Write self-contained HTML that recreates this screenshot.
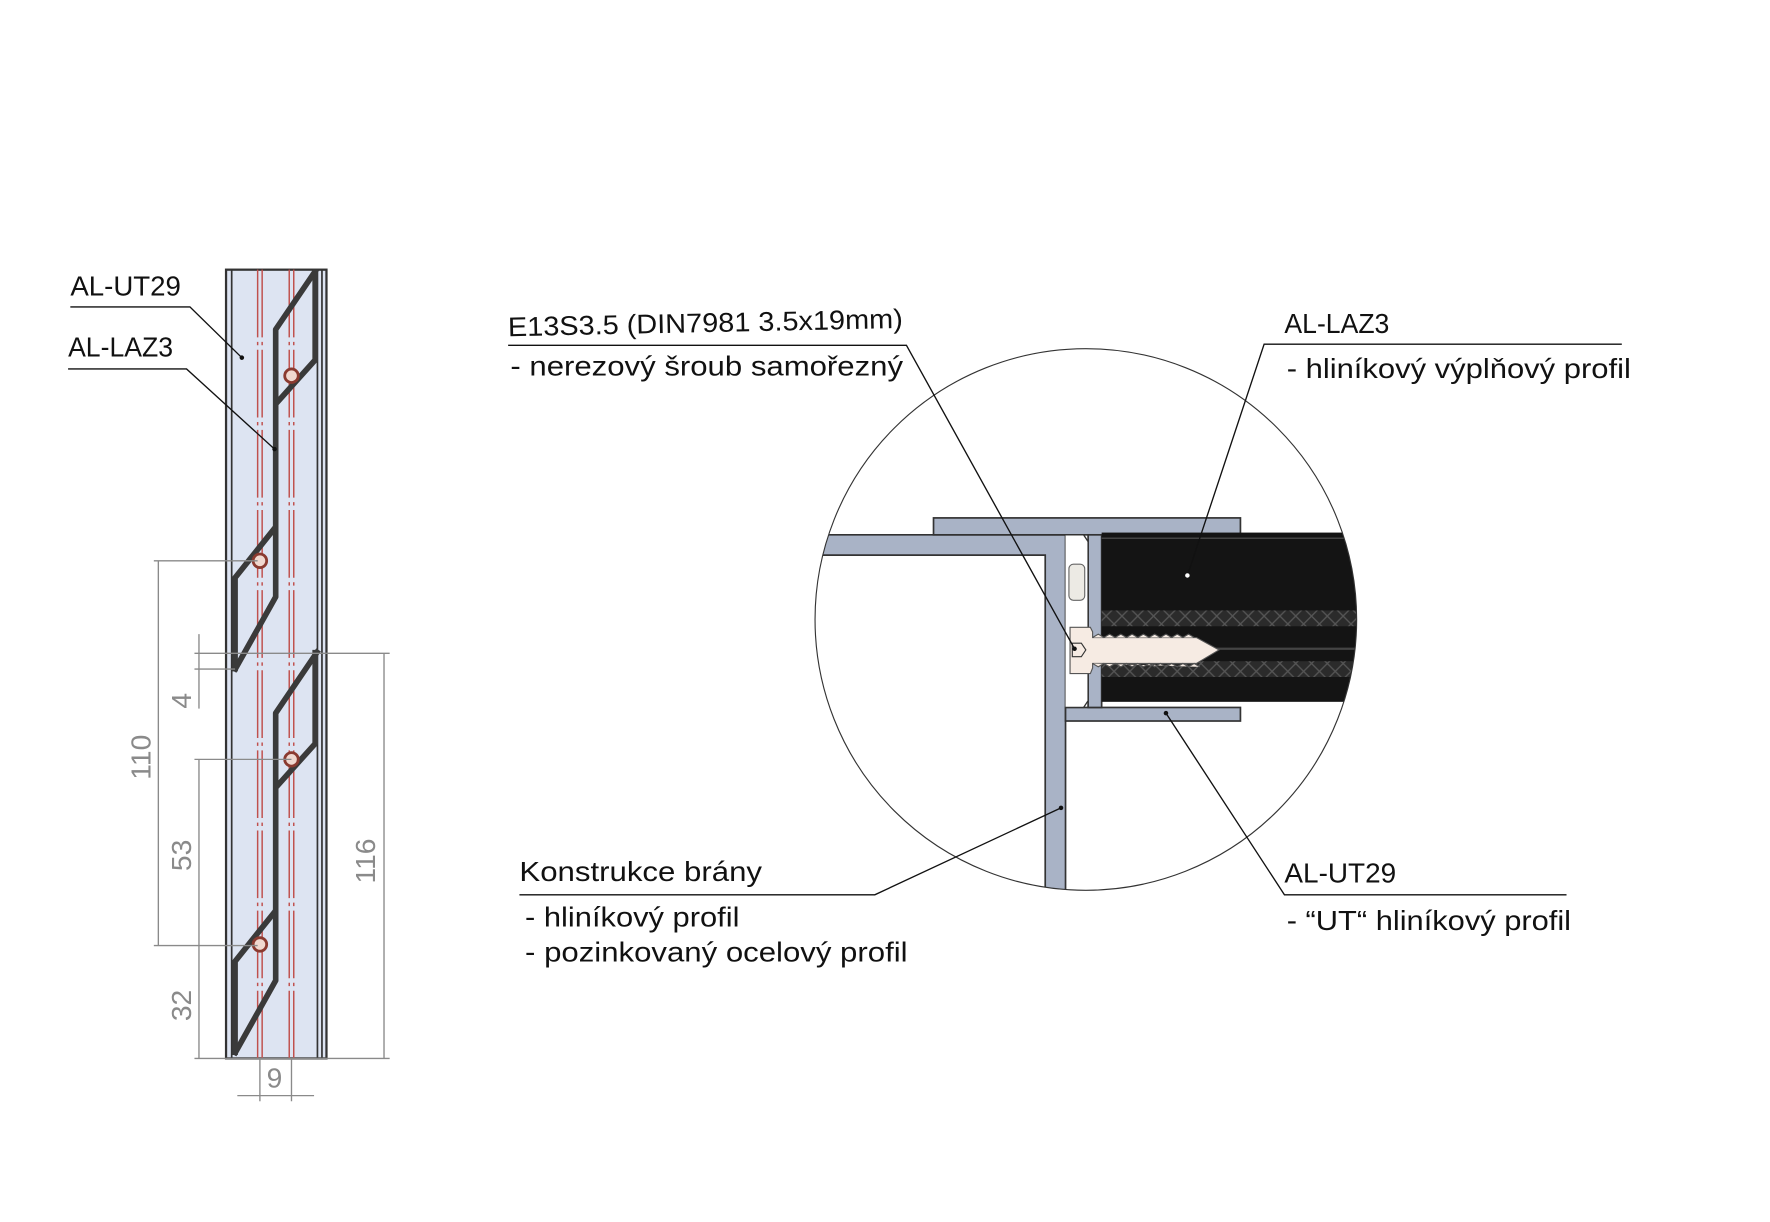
<!DOCTYPE html>
<html><head><meta charset="utf-8"><style>
html,body{margin:0;padding:0;background:#fff}
svg{display:block}
text{font-family:"Liberation Sans",sans-serif;fill:#111}
</style></head><body>
<svg width="1770" height="1222" viewBox="0 0 1568 1083" xmlns="http://www.w3.org/2000/svg">
<defs>
<clipPath id="prof"><rect x="200" y="239" width="89" height="699"/></clipPath>
<clipPath id="circ"><circle cx="962" cy="549" r="240"/></clipPath>
<pattern id="hatch" width="14" height="14" patternUnits="userSpaceOnUse">
<rect width="14" height="14" fill="#2b2b2b"/>
<path d="M0,14 L14,0 M0,0 L14,14" stroke="#555" stroke-width="1.2"/>
</pattern>
<g id="mod" fill="none" stroke="#3a3a3a" stroke-width="5" stroke-linejoin="round">
<polyline points="282,236 244,292 244,529 207,595"/>
<polyline points="279,236 279,319 244,358"/>
<polyline points="244,467 208,512 208,595"/>
<circle cx="258" cy="333" r="6" stroke="#8a3a30" stroke-width="2.5" fill="#f0d8d0"/>
<circle cx="230" cy="497" r="6" stroke="#8a3a30" stroke-width="2.5" fill="#f0d8d0"/>
</g>
</defs>

<rect x="200" y="239" width="89" height="699" fill="#dde4f2" stroke="#333" stroke-width="2"/>
<g stroke="#333" stroke-width="1.5">
<line x1="205" y1="239" x2="205" y2="938"/>
<line x1="281" y1="239" x2="281" y2="938"/>
<line x1="285" y1="239" x2="285" y2="938"/>
</g>
<g stroke="#c0504d" stroke-width="1.3" stroke-dasharray="60,4,3,4">
<line x1="228" y1="239" x2="228" y2="938"/>
<line x1="232" y1="239" x2="232" y2="938"/>
<line x1="256" y1="239" x2="256" y2="938"/>
<line x1="260" y1="239" x2="260" y2="938"/>
</g>
<g clip-path="url(#prof)">
<use href="#mod"/>
<use href="#mod" transform="translate(0,340)"/>
</g>

<g stroke="#8a8a8a" stroke-width="1.2" fill="none">
<line x1="136" y1="497" x2="228" y2="497"/>
<line x1="136" y1="838" x2="228" y2="838"/>
<line x1="140" y1="497" x2="140" y2="838"/>
<line x1="172" y1="579" x2="345" y2="579"/>
<line x1="172" y1="593" x2="208" y2="593"/>
<line x1="176" y1="562" x2="176" y2="628"/>
<line x1="172" y1="673" x2="258" y2="673"/>
<line x1="176" y1="673" x2="176" y2="938"/>
<line x1="172" y1="938" x2="345" y2="938"/>
<line x1="340" y1="579" x2="340" y2="938"/>
<line x1="230" y1="938" x2="230" y2="976"/>
<line x1="258" y1="938" x2="258" y2="976"/>
<line x1="210" y1="971" x2="278" y2="971"/>
</g>
<g font-size="25">
<text x="0" y="0" transform="translate(133,691) rotate(-90)" style="fill:#8a8a8a">110</text>
<text x="0" y="0" transform="translate(169,628) rotate(-90)" style="fill:#8a8a8a">4</text>
<text x="0" y="0" transform="translate(169,772) rotate(-90)" style="fill:#8a8a8a">53</text>
<text x="0" y="0" transform="translate(169,905) rotate(-90)" style="fill:#8a8a8a">32</text>
<text x="0" y="0" transform="translate(332,783) rotate(-90)" style="fill:#8a8a8a">116</text>
<text x="236" y="964" style="fill:#8a8a8a">9</text>
</g>

<text x="62" y="262" font-size="25" textLength="98" lengthAdjust="spacingAndGlyphs">AL-UT29</text>
<text x="60" y="316" font-size="25" textLength="93" lengthAdjust="spacingAndGlyphs">AL-LAZ3</text>
<g stroke="#111" stroke-width="1.2" fill="none">
<polyline points="62,272 168,272 214,317"/>
<polyline points="60,327 165,327 243,398"/>
</g>
<circle cx="214" cy="317" r="2" fill="#111"/>
<circle cx="243" cy="398" r="2" fill="#111"/>

<g clip-path="url(#circ)">
<path d="M700,474 L944,474 L944,800 L926,800 L926,492 L700,492 Z" fill="#a9b3c6" stroke="#333" stroke-width="1.5"/>
<rect x="827" y="459" width="272" height="15" fill="#a9b3c6" stroke="#333" stroke-width="1.5"/>
<rect x="944" y="627" width="155" height="12" fill="#a9b3c6" stroke="#333" stroke-width="1.5"/>
<rect x="964" y="474" width="12" height="153" fill="#a9b3c6" stroke="#333" stroke-width="1.5"/>
<path d="M944,474 L960,474 L964,480 L964,621 L960,627 L944,627" fill="#fff" stroke="#333" stroke-width="1.2"/>
<rect x="947" y="500" width="14" height="32" rx="4" fill="#eceae4" stroke="#666" stroke-width="1"/>
<rect x="976" y="472" width="240" height="150" fill="#141414"/>
<rect x="976" y="541" width="240" height="14" fill="url(#hatch)"/>
<rect x="976" y="586" width="240" height="14" fill="url(#hatch)"/>
<line x1="976" y1="477" x2="1216" y2="477" stroke="#555" stroke-width="1"/>
<line x1="976" y1="575" x2="1216" y2="575" stroke="#444" stroke-width="2"/>
<path d="M948,556 L966,556 L968,560 L968,565 L1060,565 L1080,576 L1060,588 L968,588 L968,592 L966,597 L948,597 Z" fill="#f6ebe3" stroke="#555" stroke-width="1"/>
<path d="M968,565 l5,-3 l5,3 l5,-3 l5,3 l5,-3 l5,3 l5,-3 l5,3 l5,-3 l5,3 l5,-3 l5,3 l5,-3 l5,3 l5,-3 l5,3 l5,-3 l5,3 M968,588 l5,3 l5,-3 l5,3 l5,-3 l5,3 l5,-3 l5,3 l5,-3 l5,3 l5,-3 l5,3 l5,-3 l5,3 l5,-3 l5,3 l5,-3 l5,3 l5,-3 l5,3" fill="#f6ebe3" stroke="#555" stroke-width="1"/>
<path d="M950,570 L958,570 L962,576 L958,582 L950,582 Z" fill="none" stroke="#333" stroke-width="1"/>
</g>
<circle cx="962" cy="549" r="240" fill="none" stroke="#333" stroke-width="1"/>

<text x="450" y="298" font-size="24" transform="rotate(-1.2 450 298)" textLength="350" lengthAdjust="spacingAndGlyphs">E13S3.5 (DIN7981 3.5x19mm)</text>
<text x="452" y="333" font-size="25" textLength="348" lengthAdjust="spacingAndGlyphs">- nerezový šroub samořezný</text>
<text x="1138" y="295" font-size="25" textLength="93" lengthAdjust="spacingAndGlyphs">AL-LAZ3</text>
<text x="1140" y="335" font-size="25" textLength="305" lengthAdjust="spacingAndGlyphs">- hliníkový výplňový profil</text>
<text x="460" y="781" font-size="25" textLength="215" lengthAdjust="spacingAndGlyphs">Konstrukce brány</text>
<text x="465" y="821" font-size="25" textLength="190" lengthAdjust="spacingAndGlyphs">- hliníkový profil</text>
<text x="465" y="852" font-size="25" textLength="339" lengthAdjust="spacingAndGlyphs">- pozinkovaný ocelový profil</text>
<text x="1138" y="782" font-size="25" textLength="99" lengthAdjust="spacingAndGlyphs">AL-UT29</text>
<text x="1140" y="824" font-size="25" textLength="252" lengthAdjust="spacingAndGlyphs">- “UT“ hliníkový profil</text>
<g stroke="#111" stroke-width="1.2" fill="none">
<polyline points="450,306 803,306 952,575"/>
<polyline points="1437,305 1120,305 1052,510"/>
<polyline points="460,793 775,793 940,716"/>
<polyline points="1388,793 1138,793 1033,632"/>
</g>
<circle cx="952" cy="575" r="2" fill="#111"/>
<circle cx="1052" cy="510" r="2" fill="#fff"/>
<circle cx="940" cy="716" r="2" fill="#111"/>
<circle cx="1033" cy="632" r="2" fill="#111"/>
</svg>
</body></html>
